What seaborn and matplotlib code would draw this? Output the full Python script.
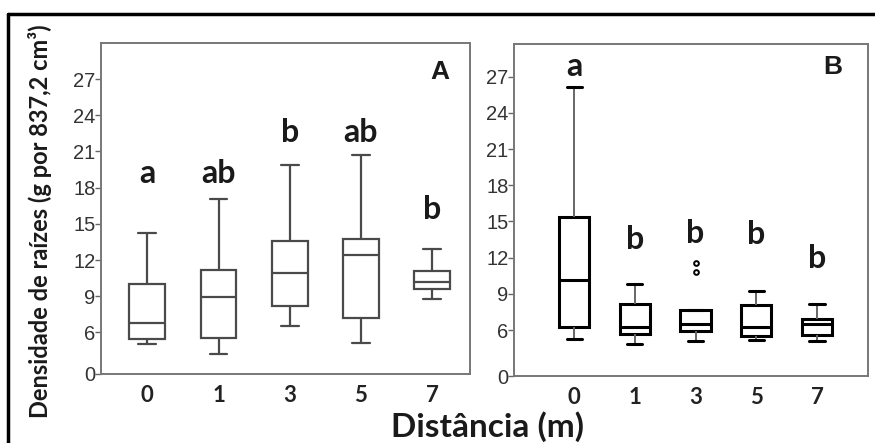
import matplotlib
matplotlib.use('Agg')
import matplotlib.pyplot as plt
from matplotlib.lines import Line2D
import seaborn as sns
import pandas as pd
import numpy as np

# distance categories (m)
dists = ['0', '1', '3', '5', '7']

# panel A: five-number summaries
A_whislo = [5.0, 4.2, 6.5, 5.1, 8.8]
A_q1 = [5.45, 5.55, 8.2, 7.2, 9.6]
A_med = [6.75, 8.9, 10.9, 12.45, 10.2]
A_q3 = [10.05, 11.2, 13.6, 13.75, 11.05]
A_whishi = [14.2, 17.1, 19.9, 20.75, 12.95]
A_letters = ['a', 'ab', 'b', 'ab', 'b']
A_letter_y = [19.2, 19.2, 22.6, 22.6, 16.2]

# panel B
B_whislo = [5.25, 4.85, 5.1, 5.15, 5.1]
B_q1 = [6.3, 5.7, 5.95, 5.5, 5.6]
B_med = [10.15, 6.3, 6.55, 6.3, 6.55]
B_q3 = [15.4, 8.2, 7.65, 8.05, 6.95]
B_whishi = [26.1, 9.85, 7.65, 9.25, 8.2]
B_out_dist = ['3', '3']
B_out_val = [10.8, 11.6]
B_letters = ['a', 'b', 'b', 'b', 'b']
B_letter_y = [27.8, 13.5, 14.0, 13.9, 11.9]

ytick_vals = [6, 9, 12, 15, 18, 21, 24, 27]


def summary_frame(lo, q1, med, q3, hi):
    rows = []
    for d, a, b, c, e, f in zip(dists, lo, q1, med, q3, hi):
        for v in (a, b, c, e, f):
            rows.append({'dist': d, 'val': v})
    return pd.DataFrame(rows)


sns.set_style('white')
plt.rcParams['font.family'] = ['Lato', 'DejaVu Sans']

fig = plt.figure(figsize=(8.75, 4.43), dpi=100)
axA = fig.add_axes([0.1154, 0.1558, 0.4217, 0.7472])
axB = fig.add_axes([0.5874, 0.1512, 0.4046, 0.7494])

dfA = summary_frame(A_whislo, A_q1, A_med, A_q3, A_whishi)
dfB = summary_frame(B_whislo, B_q1, B_med, B_q3, B_whishi)

gA = '#4a4a4a'
sns.boxplot(data=dfA, x='dist', y='val', order=dists, ax=axA, whis=(0, 100),
            width=0.5, color='white', linecolor=gA, linewidth=1.6,
            showfliers=False)

sns.boxplot(data=dfB, x='dist', y='val', order=dists, ax=axB, whis=(0, 100),
            width=0.5, color='white', linecolor='black', linewidth=2.2,
            showfliers=False,
            whiskerprops={'color': '#666666', 'linewidth': 1.4})
outB = pd.DataFrame({'dist': B_out_dist, 'val': B_out_val})
sns.stripplot(data=outB, x='dist', y='val', order=dists, ax=axB, jitter=False,
              color='white', edgecolor='black', linewidth=1.4, size=3.4)

for ax, ylo, yhi, letters, ly, xl in [
        (axA, 2.55, 30.0, A_letters, A_letter_y, (-0.65, 4.53)),
        (axB, 2.2, 29.7, B_letters, B_letter_y, (-0.99, 4.84))]:
    ax.set_ylim(ylo, yhi)
    ax.set_xlim(*xl)
    ax.set_yticks([ylo] + ytick_vals)
    ax.set_yticklabels(['0'] + [str(v) for v in ytick_vals],
                       family='Liberation Sans', fontsize=14.5, color='#333333')
    ax.set_xticks(range(len(dists)))
    ax.set_xticklabels(dists, fontsize=16, fontweight='bold', color='#222222')
    ax.tick_params(axis='y', length=4, width=1, color='#666666', pad=0, left=True)
    ax.tick_params(axis='x', length=0, pad=8)
    ax.set_xlabel('')
    ax.set_ylabel('')
    for s in ax.spines.values():
        s.set_color('#777777')
        s.set_linewidth(1.4)
    for i, (t, y) in enumerate(zip(letters, ly)):
        ax.text(i, y, t, ha='center', va='center', fontsize=23,
                fontweight='bold', color='#1a1a1a')

axA.text(0.919, 0.912, 'A', transform=axA.transAxes, ha='center', va='center',
         fontsize=19, fontweight='bold', family='Liberation Sans', color='#1a1a1a')
axB.text(0.901, 0.931, 'B', transform=axB.transAxes, ha='center', va='center',
         fontsize=19, fontweight='bold', family='Liberation Sans', color='#1a1a1a')

fig.text(0.046, 0.5, 'Densidade de raízes (g por 837,2 cm³)', rotation=90,
         ha='center', va='center', fontsize=17, fontweight='bold', color='#1a1a1a')
fig.text(0.557, 0.036, 'Distância (m)', ha='center', va='center',
         fontsize=24, fontweight='bold', color='#1a1a1a')

# outer frame (left and top edges only, as in the cropped original)
fig.add_artist(Line2D([8 / 875, 8 / 875], [0, 1 - 14 / 443], color='black',
                      linewidth=2.5, transform=fig.transFigure))
fig.add_artist(Line2D([8 / 875, 1], [1 - 14 / 443, 1 - 14 / 443], color='black',
                      linewidth=2.5, transform=fig.transFigure))

fig.savefig('out.png', dpi=100)
